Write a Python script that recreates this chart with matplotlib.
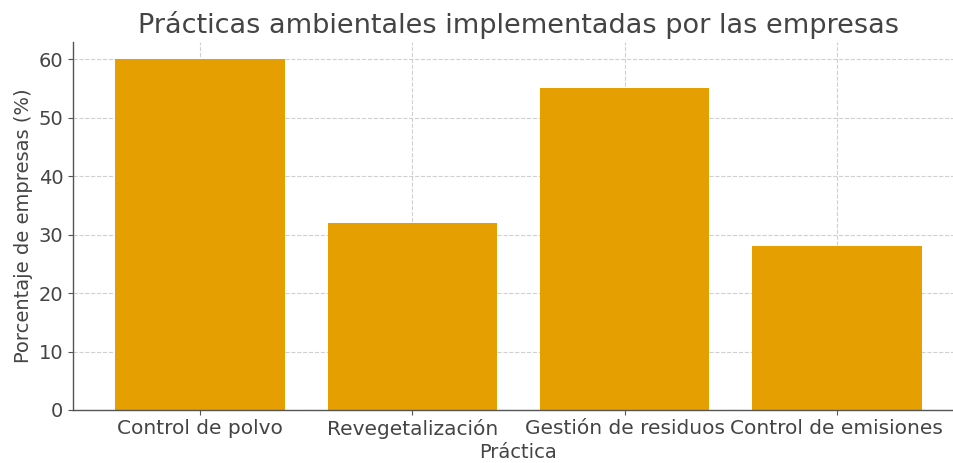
import matplotlib
matplotlib.use("Agg")
import matplotlib.pyplot as plt

categories = ["Control de polvo", "Revegetalización", "Gestión de residuos", "Control de emisiones"]
values = [60, 32, 55, 28]

title = "Prácticas ambientales implementadas por las empresas"
xlabel = "Práctica"
ylabel = "Porcentaje de empresas (%)"

fig = plt.figure(figsize=(9.54, 4.63), dpi=100)
ax = fig.add_axes([0.0765, 0.1145, 0.934, 0.7955])
ax.set_axisbelow(True)
ax.bar(range(len(categories)), values, width=0.8, color="#E69F00")
ax.set_xticks(range(len(categories)))
ax.set_xticklabels(categories)
ax.set_xlim(-0.6, 3.6)
ax.set_ylim(0, 63)
ax.grid(True, linestyle="--", color="#d0d0d0", linewidth=0.8)
for s in ["top", "right"]:
    ax.spines[s].set_visible(False)
for s in ["left", "bottom"]:
    ax.spines[s].set_color("#555555")
    ax.spines[s].set_linewidth(1.0)
ax.tick_params(axis="x", labelsize=14.5, colors="#555555", labelcolor="#444444", pad=3)
ax.tick_params(axis="y", labelsize=14, colors="#555555", labelcolor="#444444")
ax.set_xlabel(xlabel, fontsize=14, color="#444444", labelpad=3)
ax.set_ylabel(ylabel, fontsize=14, color="#444444")
ax.set_title(title, fontsize=19.5, color="#444444", pad=6)
fig.savefig("out.png", dpi=100)
